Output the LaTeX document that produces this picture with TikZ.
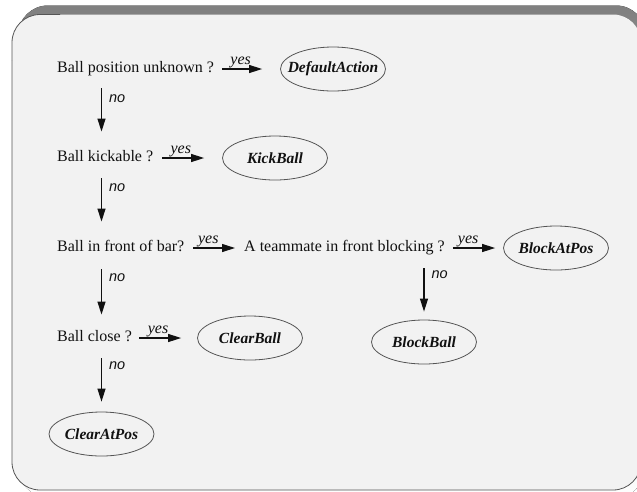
\documentclass[tikz,border=0pt]{standalone}
\usepackage{fontspec}
\setmainfont{Liberation Serif}
\newfontfamily\labelsans{Liberation Sans}
\usetikzlibrary{arrows.meta,shapes.geometric}
\definecolor{panel}{HTML}{F2F2F2}
\definecolor{shade}{HTML}{101010}
\definecolor{rim}{HTML}{555555}
\definecolor{ink}{HTML}{111111}
% ellipse labels take no room, so every action ellipse keeps the same size
\newcommand\actlabel[1]{\makebox[0pt]{#1}}
\begin{document}
\begin{tikzpicture}[x=1pt,y=-1pt,
  question/.style={anchor=west, inner sep=0pt, text height=11pt, text depth=3.5pt,
    text=ink, font=\fontsize{16}{19}\selectfont},
  action/.style={ellipse, draw=rim, line width=0.8pt, minimum width=105pt,
    minimum height=44pt, inner sep=0pt, text=ink,
    font=\fontsize{15.5}{18}\selectfont\bfseries\itshape},
  flow/.style={-{Triangle[length=13pt,width=8pt]}, line width=1.1pt, draw=ink},
  yeslab/.style={above, pos=0.4, inner sep=0.3pt, text=ink,
    font=\fontsize{16}{19}\selectfont\itshape},
  nolab/.style={right, pos=0.3, inner sep=7pt, text=ink,
    font=\labelsans\fontsize{14.5}{17}\selectfont\itshape}]

\useasboundingbox (0,0) rectangle (637,491);

% framed panel with its dark shadow band
\begin{scope}
  \clip (0,0) rectangle (637,491);
  \fill[shade, rounded corners=30pt] (18,5.5) rectangle (646,497);
  \fill[panel, rounded corners=28pt] (12,14.5) rectangle (641,490);
  \draw[rim, line width=0.8pt, rounded corners=28pt]
    (12,60) -- (12,490) -- (641,490) -- (641,400);
  \draw[rim, line width=0.8pt, rounded corners=28pt]
    (12,60) -- (12,14.5) -- (60,14.5);
\end{scope}

% decisions
\node[question] (q1) at (57,69)  {Ball position unknown ?};
\node[question] (q2) at (57,158) {Ball kickable ?};
\node[question] (q3) at (57,248) {Ball in front of bar?};
\node[question] (q4) at (57,338) {Ball close ?};
\node[question] (tm) at (244,248) {A teammate in front blocking ?};

% actions
\node[action] (da)  at (333,69)  {\actlabel{DefaultAction}};
\node[action] (kb)  at (275,158) {\actlabel{KickBall}};
\node[action] (bap) at (556,248) {\actlabel{BlockAtPos}};
\node[action] (cb)  at (250,338) {\actlabel{ClearBall}};
\node[action] (bb)  at (424,342) {\actlabel{BlockBall}};
\node[action] (cap) at (101.5,434) {\actlabel{ClearAtPos}};

% yes branches
\draw[flow, shorten <=8pt, shorten >=18pt] (q1) -- node[yeslab] {yes} (da);
\draw[flow, shorten <=9pt, shorten >=18pt] (q2) -- node[yeslab] {yes} (kb);
\draw[flow, shorten <=9pt, shorten >=9pt]  (q3) -- node[yeslab] {yes} (tm);
\draw[flow, shorten <=8pt, shorten >=8pt]  (tm) -- node[yeslab] {yes} (bap);
\draw[flow, shorten <=7pt, shorten >=16pt] (q4) -- node[yeslab] {yes} (cb);

% no branches
\draw[flow, shorten <=12pt, shorten >=19pt] (q1.south -| cap.center) -- node[nolab] {no} (q2.north -| cap.center);
\draw[flow, shorten <=13pt, shorten >=19pt] (q2.south -| cap.center) -- node[nolab] {no} (q3.north -| cap.center);
\draw[flow, shorten <=14pt, shorten >=16pt] (q3.south -| cap.center) -- node[nolab] {no} (q4.north -| cap.center);
\draw[flow, shorten <=13pt, shorten >=10pt] (q4.south -| cap.center) -- node[nolab] {no} (cap.north);
\draw[flow, shorten <=13pt, shorten >=8pt]  (tm.south -| bb.north) -- node[nolab] {no} (bb.north);
\end{tikzpicture}
\end{document}
